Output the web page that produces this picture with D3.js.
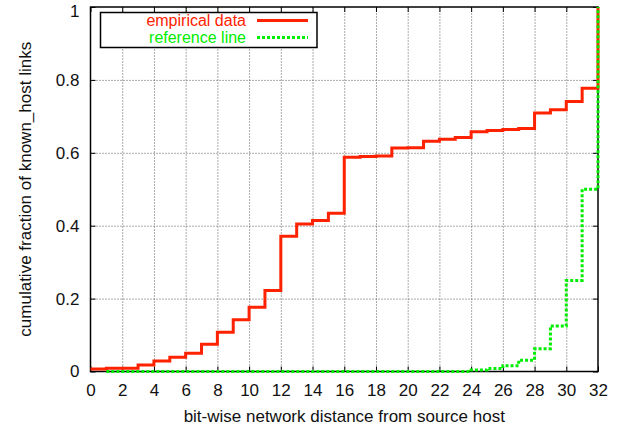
<!DOCTYPE html>
<html>
<head>
<meta charset="utf-8">
<script src="https://cdn.jsdelivr.net/npm/d3@7"></script>
<style>
  body { margin: 0; background: #fff; }
  svg { font-family: "Liberation Sans", Arial, sans-serif; }
  .grid line { stroke: #555; stroke-dasharray: 1,2; }
  .grid path { display: none; }
</style>
</head>
<body>
<div id="chart-container"></div>
<script>
// Distances 0..32 (bits)
const distances = d3.range(0, 33);

// Cumulative fraction, empirical
const empirical = [0.007, 0.009, 0.009, 0.018, 0.029, 0.039, 0.050, 0.075, 0.108, 0.142,
  0.176, 0.222, 0.371, 0.405, 0.414, 0.434, 0.588, 0.590, 0.591, 0.613,
  0.614, 0.632, 0.637, 0.642, 0.658, 0.661, 0.664, 0.667, 0.709, 0.718,
  0.741, 0.777, 1.0];

// Reference line, starts at distance 1
const reference = [null, 0, 0, 0, 0, 0, 0, 0, 0, 0,
  0, 0, 0, 0, 0, 0, 0, 0, 0, 0,
  0, 0, 0, 0, 0.004, 0.008, 0.016, 0.031, 0.0625, 0.125,
  0.25, 0.5, 1.0];

const xTicks = d3.range(0, 33, 2);
const yTicks = [0, 0.2, 0.4, 0.6, 0.8, 1];

const seriesNames = ["empirical data", "reference line"];
const seriesColors = ["#ff2200", "#00ee00"];

let margin = { top: 7, right: 21, bottom: 57.5, left: 90.5 },
  fWidth = 619,
  fHeight = 429,
  width = fWidth - margin.left - margin.right,
  height = fHeight - margin.top - margin.bottom,
  fontSize = "17px";

let svg = d3.select("#chart-container").append("svg")
  .attr("width", fWidth)
  .attr("height", fHeight);

let chart = svg.append("g")
  .attr("transform", `translate(${ margin.left } ${ margin.top })`);

let xScale = d3.scaleLinear().domain([0, 32]).range([0, width]);
let yScale = d3.scaleLinear().domain([0, 1]).range([height, 0]);

// Grid lines
chart.append("g")
  .attr("class", "grid")
  .attr("transform", `translate(0 ${ height })`)
  .call(d3.axisBottom(xScale).tickValues(xTicks.slice(1, -1)).tickSize(-height).tickFormat(""));

chart.append("g")
  .attr("class", "grid")
  .call(d3.axisLeft(yScale).tickValues(yTicks.slice(1, -1)).tickSize(-width).tickFormat(""));

// Axes with inward ticks
let xAxis = chart.append("g")
  .attr("transform", `translate(0 ${ height })`)
  .call(d3.axisBottom(xScale).tickValues(xTicks).tickSize(-5).tickPadding(12.5).tickFormat(d3.format("d")));

let xAxisTop = chart.append("g")
  .call(d3.axisTop(xScale).tickValues(xTicks).tickSize(-5).tickFormat(""));

let yAxis = chart.append("g")
  .call(d3.axisLeft(yScale).tickValues(yTicks).tickSize(-5).tickPadding(11).tickFormat(d => d === 0 || d === 1 ? d : d3.format(".1f")(d)));

let yAxisRight = chart.append("g")
  .attr("transform", `translate(${ width } 0)`)
  .call(d3.axisRight(yScale).tickValues(yTicks).tickSize(-5).tickFormat(""));

[xAxis, xAxisTop, yAxis, yAxisRight].forEach(a => {
  a.select(".domain").remove();
  a.selectAll("line").attr("stroke", "#000");
  a.selectAll("text").attr("fill", "#111").style("font-size", fontSize)
    .style("font-family", "'Liberation Sans', Arial, sans-serif");
});

// Keep the top "1" label inside the page
yAxis.selectAll(".tick text").filter(d => d === 1).attr("dy", "0.55em");

// Frame
chart.append("rect")
  .attr("width", width)
  .attr("height", height)
  .attr("fill", "none")
  .attr("stroke", "#000")
  .attr("stroke-width", 1.5);

// Step lines
let lineGen = d3.line()
  .defined(d => d[1] !== null)
  .curve(d3.curveStepAfter)
  .x(d => xScale(d[0]))
  .y(d => yScale(d[1]));

chart.append("path")
  .attr("d", lineGen(distances.map((d, i) => [d, empirical[i]])))
  .attr("fill", "none")
  .attr("stroke", seriesColors[0])
  .attr("stroke-width", 3);

chart.append("path")
  .attr("d", lineGen(distances.map((d, i) => [d, reference[i]])))
  .attr("fill", "none")
  .attr("stroke", seriesColors[1])
  .attr("stroke-width", 3)
  .attr("stroke-dasharray", "3,2");

// Legend
let legend = svg.append("g");
legend.append("rect")
  .attr("x", 100.5).attr("y", 12.5)
  .attr("width", 216.5).attr("height", 35)
  .attr("fill", "#fff")
  .attr("stroke", "#000")
  .attr("stroke-width", 1.5);

seriesNames.forEach((name, i) => {
  let y = 20.5 + i * 17;
  legend.append("text")
    .attr("x", 246).attr("y", y)
    .attr("dy", "0.36em")
    .attr("text-anchor", "end")
    .attr("fill", seriesColors[i])
    .style("font-size", "16px")
    .text(name);
  legend.append("line")
    .attr("x1", 257).attr("x2", 308)
    .attr("y1", y).attr("y2", y)
    .attr("stroke", seriesColors[i])
    .attr("stroke-width", 3)
    .attr("stroke-dasharray", i === 1 ? "3,2" : null);
});

// Axis titles
svg.append("text")
  .attr("x", margin.left + width / 2)
  .attr("y", 421.5)
  .attr("text-anchor", "middle")
  .attr("fill", "#111")
  .style("font-size", fontSize)
  .text("bit-wise network distance from source host");

svg.append("text")
  .attr("transform", `translate(31 ${ margin.top + height / 2 }) rotate(-90)`)
  .attr("text-anchor", "middle")
  .attr("fill", "#111")
  .style("font-size", fontSize)
  .text("cumulative fraction of known_host links");
</script>
</body>
</html>
